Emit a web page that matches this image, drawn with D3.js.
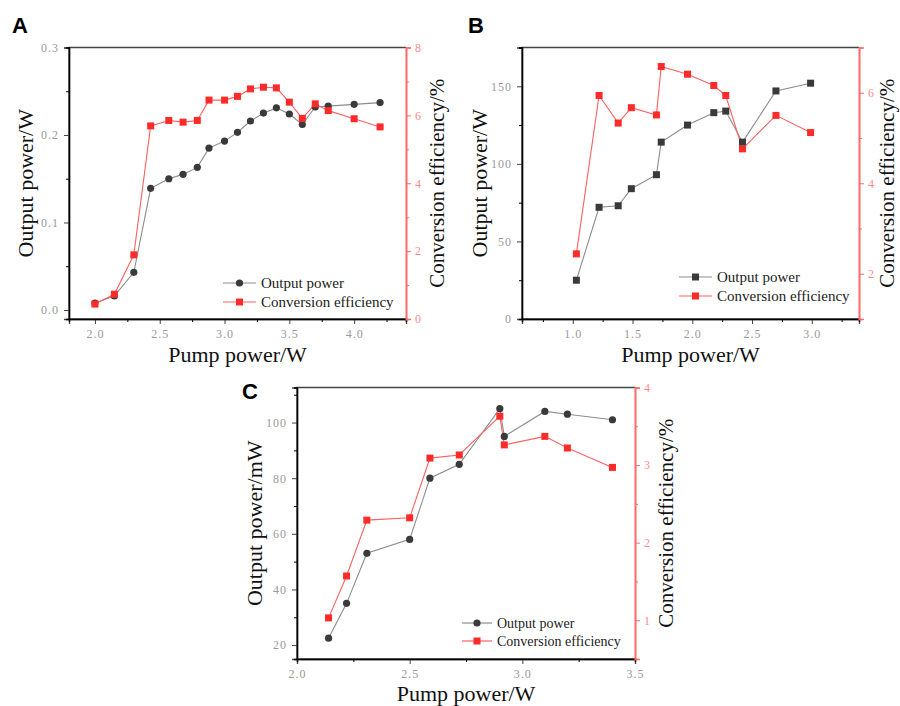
<!DOCTYPE html>
<html>
<head>
<meta charset="utf-8">
<script src="https://cdn.jsdelivr.net/npm/d3@7"></script>
<style>
  body { margin: 0; background: #fff; }
  svg { display: block; }
  .tick text { font-family: "Liberation Serif", serif; }
  .serif { font-family: "Liberation Serif", "Times New Roman", serif; }
</style>
</head>
<body>
<div id="chart"></div>
<script>
// ---- data ----
const pumpA = [2.0, 2.15, 2.30, 2.43, 2.57, 2.68, 2.79, 2.88, 3.0, 3.10, 3.2, 3.3, 3.4, 3.5, 3.6, 3.7, 3.8, 4.0, 4.2];
const powerA = [0.008, 0.016, 0.043, 0.139, 0.150, 0.155, 0.163, 0.185, 0.193, 0.203, 0.216, 0.225, 0.231, 0.224, 0.212, 0.232, 0.233, 0.235, 0.237];
const effA = [0.44, 0.73, 1.89, 5.69, 5.85, 5.80, 5.85, 6.45, 6.45, 6.56, 6.78, 6.83, 6.81, 6.39, 5.91, 6.34, 6.14, 5.90, 5.66];

const pumpB = [1.03, 1.22, 1.38, 1.49, 1.70, 1.74, 1.96, 2.18, 2.28, 2.42, 2.70, 2.99];
const powerB = [25, 72, 73, 84, 93, 114, 125, 133, 134, 114, 147, 152];
const effB = [2.44, 5.94, 5.33, 5.67, 5.51, 6.58, 6.41, 6.16, 5.94, 4.76, 5.50, 5.12];

const pumpC = [2.14, 2.22, 2.31, 2.50, 2.59, 2.72, 2.90, 2.92, 3.10, 3.20, 3.40];
const powerC = [22.5, 35, 53, 58, 80, 85, 105, 95, 104, 103, 101];
const effC = [1.03, 1.57, 2.29, 2.32, 3.09, 3.13, 3.63, 3.26, 3.37, 3.22, 2.97];

const xTicksA = [2.0, 2.5, 3.0, 3.5, 4.0];
const xMinorA = [2.25, 2.75, 3.25, 3.75, 4.25];
const yTicksA = [0.0, 0.1, 0.2, 0.3];
const yMinorA = [0.05, 0.15, 0.25];
const rTicksA = [0, 2, 4, 6, 8];
const rMinorA = [1, 3, 5, 7];

const xTicksB = [1.0, 1.5, 2.0, 2.5, 3.0];
const xMinorB = [0.75, 1.25, 1.75, 2.25, 2.75, 3.25];
const yTicksB = [0, 50, 100, 150];
const yMinorB = [25, 75, 125, 175];
const rTicksB = [2, 4, 6];
const rMinorB = [1, 3, 5, 7];

const xTicksC = [2.0, 2.5, 3.0, 3.5];
const xMinorC = [2.25, 2.75, 3.25];
const yTicksC = [20, 40, 60, 80, 100];
const yMinorC = [30, 50, 70, 90, 110];
const rTicksC = [1, 2, 3, 4];
const rMinorC = [0.5, 1.5, 2.5, 3.5];

const seriesNames = ["Output power", "Conversion efficiency"];

const BLACK_MARK = "#3a3a3a";
const GRAY_LINE = "#8c8c8c";
const RED_MARK = "#ff2a2a";
const RED_LINE = "#ff6060";
const RED_AXIS = "#ff6a6a";
const TICK_GRAY = "#9a9a9a";

const svg = d3.select("#chart").append("svg")
    .attr("width", 900)
    .attr("height", 706);

function drawPanel(p) {
  const x = d3.scaleLinear().domain(p.xDomain).range([p.box.left, p.box.right]);
  const y = d3.scaleLinear().domain(p.yDomain).range([p.box.bottom, p.box.top]);
  const r = d3.scaleLinear().domain(p.rDomain).range([p.box.bottom, p.box.top]);
  const g = svg.append("g");

  // frame (top + left dark, right red)
  g.append("path")
    .attr("d", `M${p.box.right},${p.box.top} H${p.box.left} V${p.box.bottom} H${p.box.right}`)
    .attr("fill", "none").attr("stroke", "#444").attr("stroke-width", 1.4);

  // bottom axis
  const xa = g.append("g").attr("transform", `translate(0,${p.box.bottom})`)
    .call(d3.axisBottom(x).tickValues(p.xTicks).tickFormat(d3.format(".1f")).tickSize(5).tickPadding(5));
  g.append("g").attr("transform", `translate(0,${p.box.bottom})`)
    .call(d3.axisBottom(x).tickValues(p.xMinor).tickFormat("").tickSize(3));

  // left axis
  const ya = g.append("g").attr("transform", `translate(${p.box.left},0)`)
    .call(d3.axisLeft(y).tickValues(p.yTicks).tickFormat(d3.format(p.yFormat)).tickSize(5).tickPadding(5));
  g.append("g").attr("transform", `translate(${p.box.left},0)`)
    .call(d3.axisLeft(y).tickValues(p.yMinor).tickFormat("").tickSize(3));

  // right axis
  const ra = g.append("g").attr("transform", `translate(${p.box.right},0)`)
    .call(d3.axisRight(r).tickValues(p.rTicks).tickFormat(d3.format("d")).tickSize(5).tickPadding(4));
  const rm = g.append("g").attr("transform", `translate(${p.box.right},0)`)
    .call(d3.axisRight(r).tickValues(p.rMinor).tickFormat("").tickSize(3));

  [xa, ya].forEach(a => {
    a.select(".domain").attr("stroke", "#444").attr("stroke-width", 1.4);
    a.selectAll(".tick line").attr("stroke", "#444");
    a.selectAll(".tick text").attr("fill", TICK_GRAY).style("font-size", "12px").style("letter-spacing", "1px");
  });
  g.selectAll(".domain").attr("stroke-width", 1.4);
  [ra, rm].forEach(a => {
    a.select(".domain").attr("stroke", RED_AXIS).attr("stroke-width", 1.6);
    a.selectAll(".tick line").attr("stroke", RED_AXIS);
    a.selectAll(".tick text").attr("fill", "#ff8a8a").style("font-size", "12px");
  });

  // lines
  const powerPts = p.pump.map((d, i) => [d, p.power[i]]);
  const effPts = p.pump.map((d, i) => [d, p.eff[i]]);
  g.append("path")
    .attr("d", d3.line().x(d => x(d[0])).y(d => y(d[1]))(powerPts))
    .attr("fill", "none").attr("stroke", GRAY_LINE).attr("stroke-width", 1.1);
  g.append("path")
    .attr("d", d3.line().x(d => x(d[0])).y(d => r(d[1]))(effPts))
    .attr("fill", "none").attr("stroke", RED_LINE).attr("stroke-width", 1.1);

  // markers
  if (p.powerMarker === "circle") {
    g.selectAll(null).data(powerPts).join("circle")
      .attr("cx", d => x(d[0])).attr("cy", d => y(d[1])).attr("r", 3.6)
      .attr("fill", BLACK_MARK);
  } else {
    g.selectAll(null).data(powerPts).join("rect")
      .attr("x", d => x(d[0]) - 3.5).attr("y", d => y(d[1]) - 3.5)
      .attr("width", 7).attr("height", 7).attr("fill", BLACK_MARK);
  }
  g.selectAll(null).data(effPts).join("rect")
    .attr("x", d => x(d[0]) - 3.5).attr("y", d => r(d[1]) - 3.5)
    .attr("width", 7).attr("height", 7).attr("fill", RED_MARK);

  // legend
  const lg = g.append("g").attr("transform", `translate(${p.legend.x},${p.legend.y})`);
  seriesNames.forEach((name, i) => {
    const row = lg.append("g").attr("transform", `translate(0,${i * p.legend.gap})`);
    row.append("line").attr("x1", 0).attr("x2", p.legend.len).attr("y1", 0).attr("y2", 0)
      .attr("stroke", i === 0 ? GRAY_LINE : RED_LINE).attr("stroke-width", 1.2);
    const mx = p.legend.len / 2;
    if (i === 0 && p.powerMarker === "circle") {
      row.append("circle").attr("cx", mx).attr("cy", 0).attr("r", 3.6).attr("fill", BLACK_MARK);
    } else {
      row.append("rect").attr("x", mx - 3.5).attr("y", -3.5).attr("width", 7).attr("height", 7)
        .attr("fill", i === 0 ? BLACK_MARK : RED_MARK);
    }
    row.append("text").attr("class", "serif")
      .attr("x", p.legend.len + 5).attr("y", 0).attr("dy", "0.33em")
      .attr("font-size", p.legend.size)
      .attr("fill", "#222").text(name);
  });

  // titles
  const midY = (p.box.top + p.box.bottom) / 2;
  const midX = (p.box.left + p.box.right) / 2;
  g.append("text").attr("class", "serif")
    .attr("transform", `translate(${p.yTitleX},${midY}) rotate(-90)`)
    .attr("text-anchor", "middle").attr("dy", "0.35em")
    .attr("font-size", 22)
    .attr("fill", "#111").text(p.yTitle);
  g.append("text").attr("class", "serif")
    .attr("transform", `translate(${p.rTitleX},${midY}) rotate(-90)`)
    .attr("text-anchor", "middle").attr("dy", "0.35em")
    .attr("font-size", 21)
    .attr("fill", "#111").text("Conversion efficiency/%");
  g.append("text").attr("class", "serif")
    .attr("x", midX).attr("y", p.xTitleY)
    .attr("text-anchor", "middle")
    .attr("font-size", 22)
    .attr("fill", "#111").text("Pump power/W");

  // panel letter
  g.append("text")
    .attr("x", p.letterPos[0]).attr("y", p.letterPos[1])
    .style("font-family", "'Liberation Sans', Arial, sans-serif").style("font-size", "22px")
    .style("font-weight", "bold").attr("fill", "#000").text(p.letter);
}

drawPanel({
  letter: "A", letterPos: [12, 33],
  box: {left: 69, top: 47.5, right: 406, bottom: 319},
  xDomain: [1.8, 4.4], yDomain: [-0.0103, 0.3], rDomain: [0, 8],
  xTicks: xTicksA, xMinor: xMinorA, yTicks: yTicksA, yMinor: yMinorA, rTicks: rTicksA, rMinor: rMinorA,
  yFormat: ".1f",
  pump: pumpA, power: powerA, eff: effA, powerMarker: "circle",
  legend: {x: 223, y: 283, gap: 19, len: 33, size: 15},
  yTitle: "Output power/W", yTitleX: 25, rTitleX: 437, xTitleY: 362
});

drawPanel({
  letter: "B", letterPos: [468, 33],
  box: {left: 522, top: 47.5, right: 859, bottom: 319},
  xDomain: [0.575, 3.395], yDomain: [0, 175], rDomain: [1, 7],
  xTicks: xTicksB, xMinor: xMinorB, yTicks: yTicksB, yMinor: yMinorB, rTicks: rTicksB, rMinor: rMinorB,
  yFormat: "d",
  pump: pumpB, power: powerB, eff: effB, powerMarker: "square",
  legend: {x: 679, y: 277, gap: 19, len: 33, size: 15},
  yTitle: "Output power/W", yTitleX: 479, rTitleX: 887, xTitleY: 362
});

drawPanel({
  letter: "C", letterPos: [242, 399],
  box: {left: 297, top: 387.5, right: 635, bottom: 659},
  xDomain: [2.0, 3.5], yDomain: [15, 112.6], rDomain: [0.5, 4],
  xTicks: xTicksC, xMinor: xMinorC, yTicks: yTicksC, yMinor: yMinorC, rTicks: rTicksC, rMinor: rMinorC,
  yFormat: "d",
  pump: pumpC, power: powerC, eff: effC, powerMarker: "circle",
  legend: {x: 462, y: 623, gap: 18, len: 30, size: 14},
  yTitle: "Output power/mW", yTitleX: 254, rTitleX: 666, xTitleY: 701
});
</script>
</body>
</html>
